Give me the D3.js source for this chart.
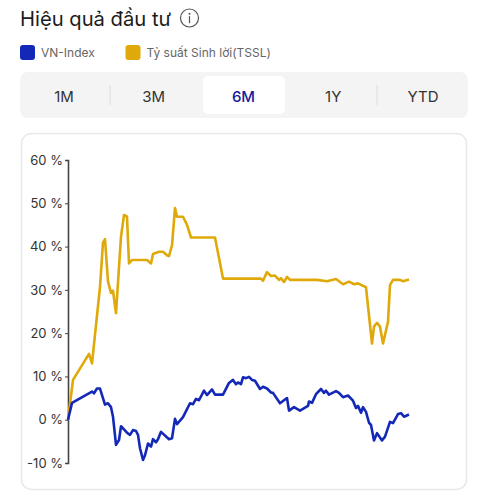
<!DOCTYPE html>
<html><head><meta charset="utf-8">
<script src="https://cdn.jsdelivr.net/npm/d3@7"></script>
<style>html,body{margin:0;background:#fff}svg{display:block}text{font-family:"Inter","Open Sans",sans-serif}</style>
</head><body><svg id="c" width="488" height="500"></svg>
<script>
const titleText = "Hiệu quả đầu tư";
const seriesNames = ["VN-Index", "Tỷ suất Sinh lời(TSSL)"];
const seriesColors = ["#1428b8", "#dfa90a"];
const tabs = ["1M", "3M", "6M", "1Y", "YTD"];
const activeTab = "6M";
const yTicks = [-10, 0, 10, 20, 30, 40, 50, 60];

const tsslDays = [0,5,21,24,32,35,37,40,43,45,48,53,56,59,61,64,79,83,85,91,95,99,101,104,107,109,115,119,123,147,155,193,195,199,203,207,211,213,216,219,222,249,259,268,275,281,286,290,298,304,306,309,312,315,320,322,325,332,335,341];
const tsslValues = [0,9.2,15.2,13,30.7,40.9,41.7,31.9,29.3,29.8,24.6,42.3,47.3,46.9,36.1,36.9,36.9,36.1,38.3,38.8,38.8,38,37.8,40.3,48.9,46.9,46.9,45,42.1,42.1,32.6,32.6,32.1,34.1,33.2,33.3,32.3,32.7,31.8,33,32.3,32.3,32,32.5,31.3,31.9,31.3,31.5,30.6,17.6,21.5,22.4,21.5,17.6,22.6,31.1,32.3,32.3,32,32.4];
const vnDays = [0,4,24,26,29,32,37,40,43,45,48,51,53,59,62,65,68,70,72,75,77,80,83,85,88,90,93,101,104,107,109,115,122,125,128,131,136,139,144,147,155,161,165,168,170,173,175,178,181,184,187,192,195,199,203,205,212,219,221,226,232,240,241,244,248,253,256,258,261,268,271,275,280,285,288,290,293,295,298,301,303,306,309,314,317,322,325,330,333,336,341];
const vnValues = [0,3.9,6.5,6.1,7.2,7.2,3.5,3.8,2.9,0.7,-5.8,-4.7,-1.5,-3,-3.5,-2.4,-2.6,-3.5,-6.6,-9.3,-8.2,-5.5,-6.2,-4.5,-5.2,-4.5,-2.8,-4.5,-4.3,0.2,-1,0.6,3.8,3.6,4.8,4.5,6.7,5.7,7,5.8,5.8,8.5,9.2,8.2,8.6,8.2,9.8,9.6,9.9,9.2,9,7.1,7.6,7.2,6.3,6.2,3.8,5,2.1,2.9,2.1,3.2,4.2,3.9,5.9,7.1,6.2,6.7,5.8,6.6,6.2,5.2,5.6,4.4,2.7,3.2,1.6,2.9,1.8,-0.7,-1.2,-4.8,-3.1,-4.8,-3.9,-0.5,-0.8,1.3,1.5,0.7,1.2];

const svg = d3.select("#c");
svg.append("text").attr("x",20).attr("y",26).attr("font-size",20.2).attr("fill","#1c1c1c").text(titleText);
const info = svg.append("g").attr("transform","translate(189.5,18)");
info.append("circle").attr("r",9).attr("fill","none").attr("stroke","#555").attr("stroke-width",1.2);
info.append("circle").attr("cy",-4.2).attr("r",1).attr("fill","#555");
info.append("rect").attr("x",-.6).attr("y",-1.8).attr("width",1.2).attr("height",7).attr("fill","#555");

const legendX = [20,125.5];
seriesNames.forEach((n,i)=>{
  svg.append("rect").attr("x",legendX[i]).attr("y",45).attr("width",15).attr("height",15).attr("rx",3).attr("fill",seriesColors[i]);
  svg.append("text").attr("x",legendX[i]+21).attr("y",57).attr("font-size",12).attr("fill","#666").text(n);
});

svg.append("rect").attr("x",20).attr("y",72).attr("width",448).attr("height",46).attr("rx",8).attr("fill","#f4f4f4");
svg.append("rect").attr("x",203).attr("y",76).attr("width",82).attr("height",38).attr("rx",5).attr("fill","#fff");
const tabX = d3.scalePoint().domain(tabs).range([64,423]);
svg.selectAll(".tab").data(tabs).join("text").attr("class","tab")
  .attr("x",d=>tabX(d)).attr("y",101.5).attr("text-anchor","middle").attr("font-size",15)
  .attr("font-weight",d=>d===activeTab?500:400)
  .attr("fill",d=>d===activeTab?"#14209a":"#333").text(d=>d);
[110,377].forEach(x=>svg.append("line").attr("x1",x).attr("x2",x).attr("y1",85).attr("y2",105).attr("stroke","#ddd").attr("stroke-width",1));

svg.append("rect").attr("x",21.5).attr("y",133.5).attr("width",445).attr("height",356).attr("rx",10).attr("fill","#fff").attr("stroke","#e8e8e8").attr("stroke-width",1.5);

const x = d3.scaleLinear().domain([0,341]).range([68,409]);
const y = d3.scaleLinear().domain([-10,60]).range([463,160]);
const axis = d3.axisLeft(y).tickValues(yTicks).tickSize(3).tickPadding(2).tickFormat(d=>d+" %");
const ag = svg.append("g").attr("transform","translate(68,0)").call(axis);
ag.select(".domain").attr("stroke","#444").attr("stroke-width",1.6);
ag.selectAll(".tick line").attr("stroke","#444");
ag.selectAll("text").attr("font-size",13).attr("fill","#333").style("font-family",'"Inter"');

const line = d3.line().x(d=>x(d[0])).y(d=>y(d[1]));
[[tsslDays,tsslValues,1],[vnDays,vnValues,0]].forEach(([dx,vx,c])=>{
  svg.append("path").datum(dx.map((d,i)=>[d,vx[i]])).attr("d",line).attr("fill","none")
    .attr("stroke",seriesColors[c]).attr("stroke-width",2.6).attr("stroke-linejoin","round");
});
</script></body></html>
